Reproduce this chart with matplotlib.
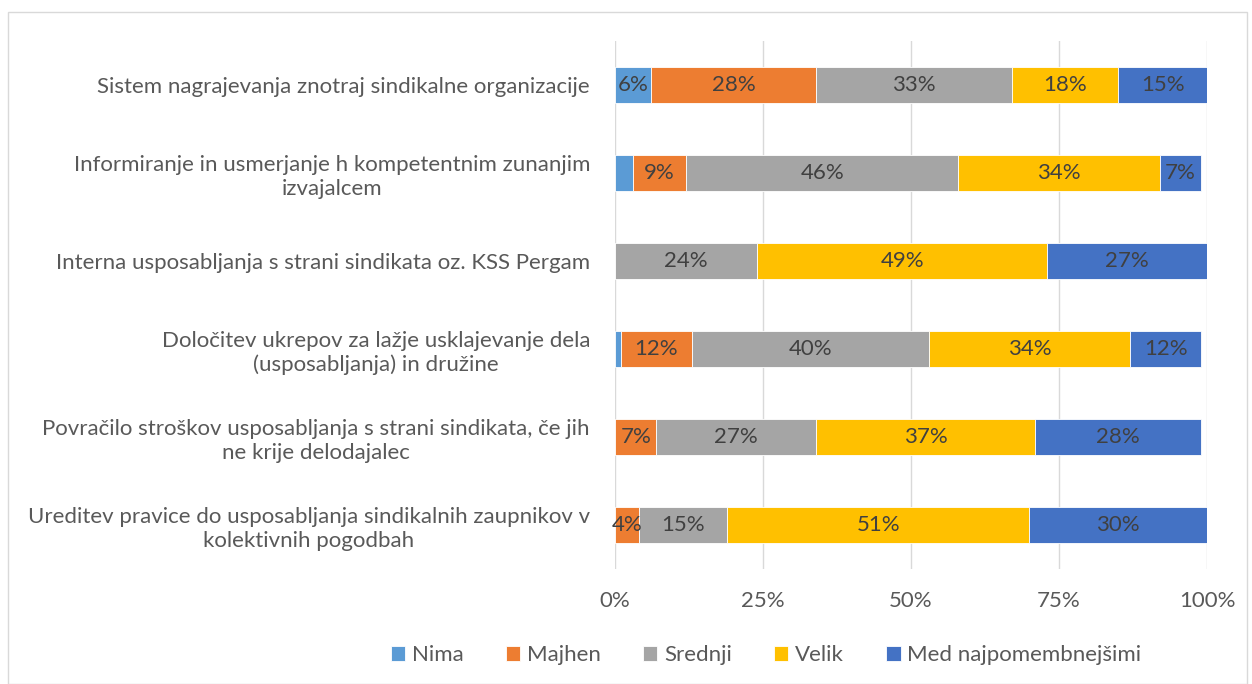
import numpy as np
import matplotlib
matplotlib.use('Agg')
from matplotlib import pyplot as plt
from matplotlib.patches import Rectangle

# podatki
kategorije = [
    'Sistem nagrajevanja znotraj sindikalne organizacije',
    'Informiranje in usmerjanje h kompetentnim zunanjim\nizvajalcem',
    'Interna usposabljanja s strani sindikata oz. KSS Pergam',
    'Določitev ukrepov za lažje usklajevanje dela\n(usposabljanja) in družine',
    'Povračilo stroškov usposabljanja s strani sindikata, če jih\nne krije delodajalec',
    'Ureditev pravice do usposabljanja sindikalnih zaupnikov v\nkolektivnih pogodbah',
]
serije = ['Nima', 'Majhen', 'Srednji', 'Velik', 'Med najpomembnejšimi']
nima = [6, 3, 0, 1, 0, 0]
majhen = [28, 9, 0, 12, 7, 4]
srednji = [33, 46, 24, 40, 27, 15]
velik = [18, 34, 49, 34, 37, 51]
med = [15, 7, 27, 12, 28, 30]
barve = ['#5B9BD5', '#ED7D31', '#A5A5A5', '#FFC000', '#4472C4']
ticki = [0, 25, 50, 75, 100]

plt.rcParams['font.family'] = ['Lato', 'DejaVu Sans']

W, H = 1252, 684
fig = plt.figure(figsize=(W / 100, H / 100), dpi=100)
ax = fig.add_axes([615 / W, (H - 569) / H, (1207 - 615) / W, (569 - 41) / H])

fs = 16
y = np.arange(len(kategorije))
levo = np.zeros(len(kategorije))
for ime, vrednosti, barva in zip(serije, [nima, majhen, srednji, velik, med], barve):
    v = np.array(vrednosti, dtype=float)
    ax.barh(y, v, left=levo, height=0.4, color=barva, edgecolor='white',
            linewidth=0.6, label=ime, zorder=3)
    for i in range(len(v)):
        if v[i] >= 4:
            ax.text(levo[i] + v[i] / 2, y[i], '%d%%' % v[i], ha='center', va='center',
                    fontsize=fs, color='#404040', zorder=4)
    levo += v

ax.set_xlim(0, 100)
ax.set_ylim(len(kategorije) - 0.5, -0.5)
ax.set_xticks(ticki)
ax.set_xticklabels(['%d%%' % t for t in ticki])
ax.xaxis.grid(True, color='#D9D9D9', linewidth=1, zorder=0)
ax.set_yticks(y)
ax.set_yticklabels(kategorije, multialignment='center', linespacing=1.25)
ax.tick_params(axis='x', length=0, pad=16, labelsize=fs, labelcolor='#595959')
ax.tick_params(axis='y', length=0, pad=18, labelsize=fs, labelcolor='#595959')
for s in ax.spines.values():
    s.set_visible(False)

fig.legend(loc='center', bbox_to_anchor=(766 / W, 1 - 655 / H), ncol=5, frameon=False,
           fontsize=fs, labelcolor='#595959', handlelength=0.65, handleheight=0.65,
           handletextpad=0.3, columnspacing=1.9)

# okvir grafa
fig.add_artist(Rectangle((8 / W, 0), (1247 - 8) / W, (H - 12) / H, transform=fig.transFigure,
                         fill=False, edgecolor='#D9D9D9', linewidth=1))

fig.savefig('out.png', dpi=100)
